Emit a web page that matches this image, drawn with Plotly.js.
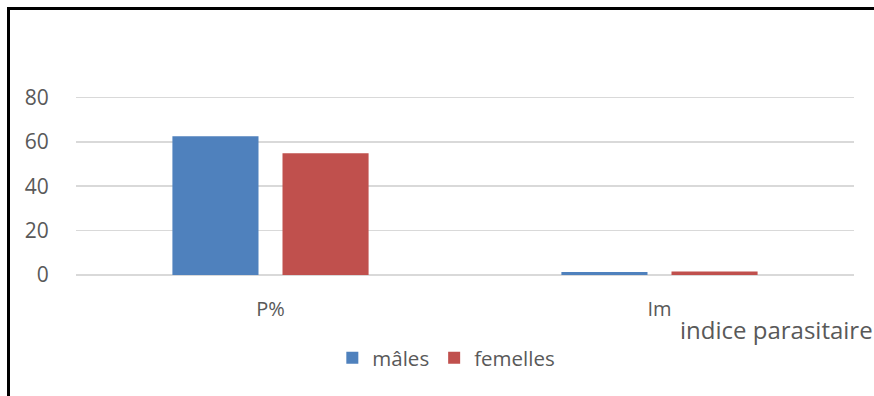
<!DOCTYPE html>
<html>
<head>
<meta charset="utf-8">
<script src="https://cdn.plot.ly/plotly-3.0.1.min.js"></script>
<style>
html,body{margin:0;padding:0;background:#fff;overflow:hidden;}
#wrap{position:relative;width:874px;height:396px;}
#chart{position:absolute;left:0;top:0;width:874px;height:396px;}
#frame{position:absolute;left:7px;top:7px;width:900px;height:420px;border-left:3px solid #000;border-top:3px solid #000;pointer-events:none;}
</style>
</head>
<body>
<div id="wrap"><div id="chart"></div><div id="frame"></div></div>
<script>
var categories = ["P%", "Im"];
var males = [62.5, 1.4];
var femelles = [54.8, 1.6];
var seriesNames = ["mâles", "femelles"];
var yTicks = [0, 20, 40, 60, 80];
var axisTitle = "indice parasitaire";

var font = "'Open Sans', 'Noto Sans', sans-serif";
var grey = "#595959";

var traces = [
  {type: "bar", name: seriesNames[0], x: categories, y: males,
   marker: {color: "#4f81bd"}},
  {type: "bar", name: seriesNames[1], x: categories, y: femelles,
   marker: {color: "#c0504d"}}
];

var layout = {
  width: 874, height: 396,
  margin: {l: 76, r: 20, t: 93, b: 121},
  paper_bgcolor: "#fff", plot_bgcolor: "#fff",
  barmode: "group", bargap: 0.434, bargroupgap: 0.218,
  font: {family: font, color: grey, size: 20},
  showlegend: true,
  legend: {orientation: "h", x: 0.476, xanchor: "center", y: -0.455, yanchor: "middle",
           font: {size: 20.5, color: grey}, traceorder: "normal"},
  xaxis: {showgrid: false, zeroline: false, showline: false,
          ticks: "outside", ticklen: 16, tickcolor: "rgba(0,0,0,0)",
          tickfont: {size: 20, color: grey}},
  yaxis: {range: [0, 82], tickvals: yTicks, showgrid: true, gridcolor: "#d9d9d9", gridwidth: 1.5,
          zeroline: true, zerolinecolor: "#d9d9d9", zerolinewidth: 1.5, showline: false,
          ticks: "outside", ticklen: 22, tickcolor: "rgba(0,0,0,0)",
          tickfont: {size: 21, color: grey}},
  annotations: [{text: axisTitle, xref: "paper", yref: "paper", x: 1.027, xanchor: "right",
                 y: -0.302, yanchor: "middle", showarrow: false,
                 font: {size: 24, color: grey, family: font}}]
};

Plotly.newPlot("chart", traces, layout, {displayModeBar: false, staticPlot: true});
</script>
</body>
</html>
